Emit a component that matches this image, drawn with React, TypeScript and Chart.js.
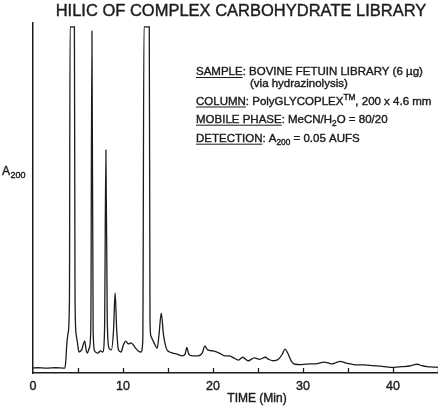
import React, { useEffect, useRef } from "react";
import { Chart, registerables } from "chart.js";

Chart.register(...registerables);

// ---- data ----
const TIME_MIN = [
  0, 0.5, 1.5, 2.5, 3.55, 3.65, 3.75, 3.9, 4.05, 4.12, 4.6, 4.67, 4.8, 4.95, 5.1, 5.4, 5.75, 5.9, 6.05, 6.25, 6.42,
  6.55, 6.68, 6.85, 7.2, 7.5, 7.75, 7.95, 8.1, 8.25, 8.45, 8.7, 8.95, 9.12, 9.3, 9.5, 9.8, 10.0, 10.3, 10.6,
  10.9, 11.15, 11.4, 11.7, 12.0, 12.2, 12.33, 12.92, 13.0, 13.1, 13.4, 13.8, 14.0, 14.25, 14.5, 14.8, 15.0, 15.5,
  16.0, 16.6, 16.9, 17.1, 17.3, 17.7, 18.3, 18.8, 19.1, 19.4, 20.0, 20.7, 21.3, 21.8, 22.3, 22.8, 23.3, 23.9,
  24.6, 25.2, 25.8, 26.2, 26.7, 27.3, 27.7, 28.0, 28.3, 28.7, 29.1, 29.8, 30.8, 31.6, 32.3, 32.8, 33.2, 33.7,
  34.1, 34.7, 35.3, 36.0, 36.8, 37.8, 38.8, 40.1, 41.0, 41.8, 42.4, 42.7, 43.2, 43.8, 44.4, 45.0,
];
const A200_SIGNAL = [
  1.4, 1.5, 1.4, 1.5, 1.4, 3.7, 8.0, 11.4, 21.0, 98.9, 98.9, 21.0, 10.9, 8.5, 6.0, 6.6, 9.1, 6.6, 5.7, 7.1, 12.3,
  97.7, 12.3, 6.3, 5.7, 6.3, 6.0, 12.3, 63.7, 15.1, 7.1, 6.6, 12.3, 22.9, 12.3, 6.6, 6.0, 7.7, 9.1, 8.3,
  8.6, 8.0, 7.1, 6.3, 6.0, 9.4, 98.9, 98.9, 15.1, 10.6, 8.9, 7.1, 10.9, 17.1, 10.9, 7.1, 6.3, 5.7,
  5.4, 4.9, 5.4, 7.3, 5.4, 4.9, 4.9, 5.7, 7.7, 6.6, 6.3, 5.7, 4.9, 4.9, 4.3, 3.7, 4.5, 3.5,
  4.3, 3.9, 4.5, 3.9, 3.5, 4.0, 5.4, 6.8, 5.7, 3.4, 2.5, 2.4, 2.6, 2.7, 3.1, 2.9, 2.6, 3.0,
  3.3, 2.9, 2.6, 2.3, 2.3, 2.1, 1.9, 1.6, 1.8, 2.0, 2.4, 2.5, 2.1, 1.8, 1.7, 1.6,
];
const X_MIN = 0;
const X_MAX = 45;
const X_TICK_STEP = 5;
const X_LABEL_STEP = 10;
const Y_MIN = 0;
const Y_MAX = 100;

const TITLE = "HILIC OF COMPLEX CARBOHYDRATE LIBRARY";
const X_TITLE = "TIME (Min)";
const Y_TITLE_MAIN = "A";
const Y_TITLE_SUB = "200";

type Seg = { t: string; u?: boolean; sub?: boolean; sup?: boolean };
const INFO_LINES: { x: number; base: number; segs: Seg[] }[] = [
  { x: 196, base: 75, segs: [{ t: "SAMPLE", u: true }, { t: ": BOVINE FETUIN LIBRARY (6 \u00b5g)" }] },
  { x: 250, base: 87, segs: [{ t: "(via hydrazinolysis)" }] },
  {
    x: 196,
    base: 104.5,
    segs: [{ t: "COLUMN", u: true }, { t: ": PolyGLYCOPLEX" }, { t: "TM", sup: true }, { t: ", 200 x 4.6 mm" }],
  },
  {
    x: 196,
    base: 122.7,
    segs: [{ t: "MOBILE PHASE", u: true }, { t: ": MeCN/H" }, { t: "2", sub: true }, { t: "O = 80/20" }],
  },
  {
    x: 196,
    base: 141.7,
    segs: [{ t: "DETECTION", u: true }, { t: ": A" }, { t: "200", sub: true }, { t: " = 0.05 AUFS" }],
  },
];

const INK = "#1c1c1c";
const FAMILY = '"Liberation Sans", Arial, Helvetica, sans-serif';
const TEXT_STROKE = 0.4;

function heavyText(ctx: CanvasRenderingContext2D, t: string, x: number, y: number) {
  ctx.fillText(t, x, y);
  ctx.lineWidth = TEXT_STROKE;
  ctx.strokeText(t, x, y);
}

function drawSegs(ctx: CanvasRenderingContext2D, x: number, base: number, segs: Seg[], size: number) {
  let cx = x;
  for (const s of segs) {
    const sz = s.sub || s.sup ? size * 0.72 : size;
    const dy = s.sub ? size * 0.3 : s.sup ? -size * 0.4 : 0;
    ctx.font = `${sz}px ${FAMILY}`;
    heavyText(ctx, s.t, cx, base + dy);
    const w = ctx.measureText(s.t).width;
    if (s.u) {
      ctx.beginPath();
      ctx.lineWidth = 1;
      ctx.moveTo(cx, base + 2.5);
      ctx.lineTo(cx + w, base + 2.5);
      ctx.stroke();
    }
    cx += w;
  }
}

const annotate = {
  id: "annotate",
  afterDraw(chart: any) {
    const ctx: CanvasRenderingContext2D = chart.ctx;
    const xs = chart.scales.x;
    const area = chart.chartArea;
    ctx.save();
    ctx.fillStyle = INK;
    ctx.strokeStyle = INK;
    // inward tick marks
    ctx.lineWidth = 1.3;
    for (let t = X_MIN + X_TICK_STEP; t <= X_MAX; t += X_TICK_STEP) {
      const px = Math.round(xs.getPixelForValue(t)) + 0.5;
      ctx.beginPath();
      ctx.moveTo(px, area.bottom);
      ctx.lineTo(px, area.bottom - 5);
      ctx.stroke();
    }
    ctx.textBaseline = "alphabetic";
    // main title
    ctx.textAlign = "center";
    ctx.font = `16.5px ${FAMILY}`;
    heavyText(ctx, TITLE, 241, 16);
    // x-axis title
    ctx.font = `12px ${FAMILY}`;
    heavyText(ctx, X_TITLE, 257, 401.5);
    // y-axis title
    ctx.textAlign = "left";
    ctx.font = `12px ${FAMILY}`;
    heavyText(ctx, Y_TITLE_MAIN, 2, 174.5);
    const aw = ctx.measureText(Y_TITLE_MAIN).width;
    ctx.font = `9px ${FAMILY}`;
    heavyText(ctx, Y_TITLE_SUB, 2 + aw + 0.5, 178);
    // info block
    for (const line of INFO_LINES) drawSegs(ctx, line.x, line.base, line.segs, 11.5);
    ctx.restore();
  },
};

export default function App() {
  const ref = useRef<HTMLCanvasElement | null>(null);
  useEffect(() => {
    if (!ref.current) return;
    const points = TIME_MIN.map((t, i) => ({ x: t, y: A200_SIGNAL[i] }));
    const chart = new Chart(ref.current, {
      type: "line",
      data: {
        datasets: [
          {
            data: points,
            borderColor: INK,
            borderWidth: 1.3,
            pointRadius: 0,
            fill: false,
            cubicInterpolationMode: "monotone",
          },
        ],
      },
      options: {
        animation: false,
        responsive: true,
        maintainAspectRatio: false,
        layout: { padding: { top: 23, left: 33, right: 0, bottom: 8 } },
        plugins: { legend: { display: false }, title: { display: false }, tooltip: { enabled: false } },
        scales: {
          x: {
            type: "linear",
            min: X_MIN,
            max: X_MAX,
            grid: { display: false, drawTicks: false },
            border: { display: true, color: INK, width: 1.5 },
            afterFit: (s: any) => {
              s.paddingRight = 0;
              s.paddingLeft = 0;
            },
            ticks: {
              stepSize: X_TICK_STEP,
              autoSkip: false,
              maxRotation: 0,
              padding: 6,
              color: INK,
              textStrokeColor: INK,
              textStrokeWidth: TEXT_STROKE,
              font: { family: FAMILY, size: 12.5 },
              callback: (v: any) => (Number(v) % X_LABEL_STEP === 0 ? String(v) : ""),
            },
          },
          y: {
            min: Y_MIN,
            max: Y_MAX,
            grid: { display: false, drawTicks: false },
            border: { display: true, color: INK, width: 1.5 },
            ticks: { display: false },
          },
        },
      },
      plugins: [annotate],
    } as any);
    return () => chart.destroy();
  }, []);
  return (
    <div style={{ position: "fixed", left: 0, top: 0, width: 438, height: 408, background: "#fff" }}>
      <canvas ref={ref} />
    </div>
  );
}
